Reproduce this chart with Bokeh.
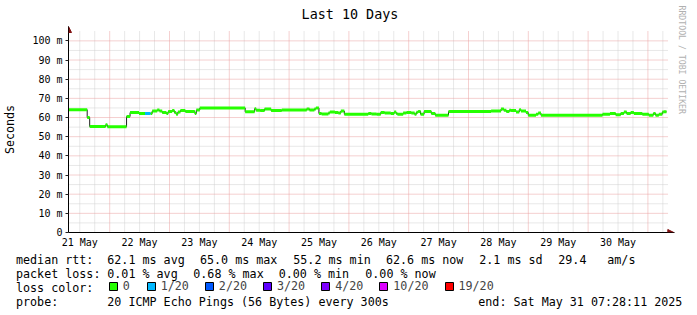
from datetime import datetime
from bokeh.plotting import figure
from bokeh.layouts import column
from bokeh.models import (Range1d, FixedTicker, Label, Arrow, NormalHead, Title,
                          Legend, LegendItem)
from bokeh.embed import file_html
from bokeh.resources import INLINE

# ---------------- data ----------------
start = datetime(2025, 5, 21, 7, 28, 11)
end = datetime(2025, 5, 31, 7, 28, 11)
span_h = (end - start).total_seconds() / 3600.0

# start of each median step, hours since start
step_start_h = [0.0, 7.5, 8.5, 14.9, 15.6, 23.3, 24.7, 28.3, 30.7, 32.9,
                33.6, 35.6, 36.5, 37.6, 39.3, 40.0, 41.6, 42.5, 43.2, 43.9,
                44.9, 46.9, 50.7, 51.3, 52.7, 70.9, 74.7, 75.3, 76.9, 78.7,
                81.3, 85.6, 95.6, 96.7, 98.7, 99.3, 100.5, 101.6, 104.3, 104.9,
                106.9, 108.3, 109.3, 110.7, 120.3, 121.6, 123.6, 125.3, 126.9, 129.3,
                130.7, 131.5, 132.0, 134.3, 135.6, 137.6, 138.9, 139.6, 140.3, 141.3,
                142.7, 145.6, 147.2, 152.5, 169.6, 173.6, 174.7, 175.7, 176.9, 177.6,
                179.6, 180.9, 181.6, 183.6, 184.5, 187.6, 188.5, 189.6, 214.3, 217.3,
                219.6, 221.6, 222.9, 224.0, 225.6, 226.9, 230.3, 232.9, 234.7, 235.6,
                236.9, 238.3, 238.9]
# median rtt, ms
median_ms = [64.1, 60.0, 55.3, 56.2, 55.2, 60.5, 62.6, 62.1, 62.1, 62.1,
             63.4, 63.9, 63.4, 62.6, 62.1, 63.1, 63.6, 62.6, 61.7, 62.9,
             63.6, 63.1, 62.1, 63.9, 65.0, 63.0, 64.6, 63.8, 63.6, 64.5,
             63.6, 63.9, 64.5, 63.9, 64.5, 65.0, 62.1, 61.9, 62.4, 62.9,
             62.6, 62.3, 63.4, 61.7, 62.1, 61.9, 61.7, 62.6, 62.3, 62.1,
             62.9, 62.1, 61.7, 62.3, 62.6, 62.3, 61.7, 62.7, 63.2, 61.7,
             63.1, 62.1, 61.2, 63.1, 63.4, 64.5, 63.8, 63.1, 63.8, 63.6,
             62.9, 64.1, 63.4, 62.6, 61.2, 61.7, 62.3, 61.2, 61.7, 62.1,
             61.4, 62.1, 62.9, 62.1, 62.6, 62.1, 61.7, 61.2, 62.1, 61.2,
             61.7, 62.9, 63.0]
# lost pings out of 20 per step
loss_of_20 = [0] * len(median_ms)
loss_of_20[8] = 1

x_day_labels = ["21 May", "22 May", "23 May", "24 May", "25 May",
                "26 May", "27 May", "28 May", "29 May", "30 May"]
y_ticks = [0, 10, 20, 30, 40, 50, 60, 70, 80, 90, 100]
y_tick_labels = ["0", "10 m", "20 m", "30 m", "40 m", "50 m",
                 "60 m", "70 m", "80 m", "90 m", "100 m"]
y_minor = [5, 15, 25, 35, 45, 55, 65, 75, 85, 95]

loss_levels = [0, 1, 2, 3, 4, 10, 19]
loss_labels = ["0", "1/20", "2/20", "3/20", "4/20", "10/20", "19/20"]
loss_colors = ["#26ff00", "#00b8ff", "#0059ff", "#5e00ff",
               "#7e00ff", "#dd00ff", "#ff0000"]

title_text = "Last 10 Days"
y_axis_text = "Seconds"
watermark_text = "RRDTOOL / TOBI OETIKER"
rtt_texts = ["median rtt:", "62.1 ms avg", "65.0 ms max", "55.2 ms min",
             "62.6 ms now", "2.1 ms sd", "29.4", "am/s"]
loss_texts = ["packet loss:", "0.01 % avg", "0.68 % max", "0.00 % min", "0.00 % now"]
color_title = "loss color:"
probe_texts = ["probe:", "20 ICMP Echo Pings (56 Bytes) every 300s",
               "end: Sat May 31 07:28:11 2025"]

# ---------------- layout constants ----------------
W = 697
TOP_H, BOT_H = 250, 65
FONT = "DejaVu Sans Mono"
AX_X, AX_Y = 66, 234          # canvas px of (t=0, 0 ms)
PX_PER_H = 600.0 / span_h
PX_PER_MS = 1.935
FR_L, FR_R, FR_T, FR_B = 66, 674, 26, 234   # plotting frame in canvas px

X1 = (FR_R - AX_X) / PX_PER_H
Y1 = (AX_Y - FR_T) / PX_PER_MS

p = figure(width=W, height=TOP_H, x_range=Range1d(0, X1), y_range=Range1d(0, Y1),
           output_backend="svg", toolbar_location=None,
           min_border_left=FR_L, min_border_right=W - FR_R,
           min_border_top=FR_T, min_border_bottom=TOP_H - FR_B,
           background_fill_color="white", border_fill_color="white")
p.frame_align = False
p.outline_line_color = None
p.xgrid.visible = False
p.ygrid.visible = False

def hours_of(dt):
    return (dt - start).total_seconds() / 3600.0
first_midnight = hours_of(datetime(2025, 5, 22, 0, 0, 0))
midnights = [first_midnight + 24 * k for k in range(10) if first_midnight + 24 * k <= span_h]
six_h = []
h = first_midnight - 18
while h <= span_h:
    if h >= 0 and all(abs(h - m) > 1e-6 for m in midnights):
        six_h.append(h)
    h += 6
noons = [first_midnight - 12 + 24 * k for k in range(len(x_day_labels))]

# grid lines (dotted), bounded like rrdtool's canvas
minor_col = "#d0d0d0"
major_col = "#eaa0a0"
grid_top = (AX_Y - 31) / PX_PER_MS
grid_right = span_h + 2 / PX_PER_H
p.segment(x0=six_h, y0=[0] * len(six_h), x1=six_h, y1=[grid_top] * len(six_h),
          line_color=minor_col, line_width=1, line_dash="1 1", level="underlay")
p.segment(x0=[0] * len(y_minor), y0=y_minor, x1=[grid_right] * len(y_minor), y1=y_minor,
          line_color=minor_col, line_width=1, line_dash="1 1", level="underlay")
p.segment(x0=midnights, y0=[0] * len(midnights), x1=midnights, y1=[grid_top] * len(midnights),
          line_color=major_col, line_width=1, line_dash="1 1", level="underlay")
p.segment(x0=[0] * 10, y0=y_ticks[1:], x1=[grid_right] * 10, y1=y_ticks[1:],
          line_color=major_col, line_width=1, line_dash="1 1", level="underlay")

# axes
p.xaxis.ticker = FixedTicker(ticks=noons)
p.xaxis.major_label_overrides = {t: lab for t, lab in zip(noons, x_day_labels)}
p.yaxis.ticker = FixedTicker(ticks=y_ticks)
p.yaxis.major_label_overrides = {t: lab for t, lab in zip(y_ticks, y_tick_labels)}
for ax in (p.xaxis[0], p.yaxis[0]):
    ax.axis_line_color = "#000000"
    ax.minor_tick_line_color = None
    ax.major_label_text_font = FONT
    ax.major_label_text_font_size = "10px"
    ax.major_label_text_color = "#000000"
p.xaxis.major_tick_line_color = None
p.xaxis.major_tick_out = 0
p.xaxis.major_tick_in = 0
p.xaxis.major_label_standoff = 4
p.yaxis.major_tick_line_color = "#202020"
p.yaxis.major_tick_out = 3
p.yaxis.major_tick_in = 0
p.yaxis.major_label_standoff = 3
p.yaxis.axis_label = y_axis_text
p.yaxis.axis_label_text_font = FONT
p.yaxis.axis_label_text_font_size = "11.7px"
p.yaxis.axis_label_text_font_style = "normal"
p.yaxis.axis_label_text_color = "#000000"
p.yaxis.axis_label_standoff = 12

# title and watermark
p.title.text = title_text
p.title.align = "left"
p.title.offset = 299.1 - FR_L
p.title.standoff = 9
p.title.text_font = FONT
p.title.text_font_size = "13.4px"
p.title.text_font_style = "normal"
p.title.text_color = "#000000"
p.add_layout(Title(text=watermark_text, align="left", offset=-21, standoff=4,
                   text_font=FONT, text_font_size="8.2px", text_font_style="normal",
                   text_color="#b0b0b0"), "right")

# median step line (dark) and loss-coloured band
xs = step_start_h + [span_h]
ys = median_ms + [median_ms[-1]]
p.step(xs, ys, mode="after", line_color="#202020", line_width=1)

def level_index(loss):
    for i, lv in enumerate(loss_levels):
        if loss <= lv:
            return i
    return len(loss_levels) - 1

for i, col in enumerate(loss_colors):
    idx = [k for k in range(len(median_ms)) if level_index(loss_of_20[k]) == i]
    if idx:
        p.segment(x0=[xs[k] for k in idx], y0=[ys[k] for k in idx],
                  x1=[xs[k + 1] for k in idx], y1=[ys[k] for k in idx],
                  line_color=col, line_width=3, line_cap="butt")

# axis arrows
arrow_col = "#801010"
p.add_layout(Arrow(x_start=0, y_start=Y1 - 6 / PX_PER_MS, x_end=0, y_end=Y1,
                   line_color="#000000", line_width=1,
                   end=NormalHead(size=6, fill_color=arrow_col, line_color=arrow_col, line_width=1)))
p.add_layout(Arrow(x_start=span_h, y_start=0, x_end=span_h + 7.3 / PX_PER_H, y_end=0,
                   line_color="#000000", line_width=1,
                   end=NormalHead(size=6, fill_color=arrow_col, line_color=arrow_col, line_width=1)))

# ---------------- legend / statistics block ----------------
q = figure(width=W, height=BOT_H, x_range=Range1d(0, W), y_range=Range1d(TOP_H + BOT_H, TOP_H),
           output_backend="svg", toolbar_location=None, x_axis_type=None, y_axis_type=None,
           min_border=0, min_border_left=0, min_border_right=0, min_border_top=0,
           min_border_bottom=0, background_fill_color="white", border_fill_color="white")
q.frame_align = False
q.outline_line_color = None
q.xgrid.visible = False
q.ygrid.visible = False

def add_label(text, px, py):
    q.add_layout(Label(x=px, y=py, text=text, text_font=FONT, text_font_size="11.7px",
                       text_color="#000000", text_align="left", text_baseline="alphabetic"))

ROW = [259.3, 273.3, 287.3, 301.3]
rtt_x = [16, 107.3, 200, 293.3, 386, 479.3, 558.3, 607.3]
for t, x in zip(rtt_texts, rtt_x):
    add_label(t, x - 0.5, ROW[0])
loss_x = [16, 107.3, 193.3, 278.7, 365.3]
for t, x in zip(loss_texts, loss_x):
    add_label(t, x - 0.5, ROW[1])
add_label(color_title, 15.5, ROW[2])
probe_x = [16, 107.3, 478.3]
for t, x in zip(probe_texts, probe_x):
    add_label(t, x - 0.5, ROW[3])

nan = float("nan")
items = []
for lab, col in zip(loss_labels, loss_colors):
    r = q.quad(left=[nan], right=[nan], top=[nan], bottom=[nan],
               fill_color=col, line_color="black", line_width=1)
    items.append(LegendItem(label=lab, renderers=[r]))
legend = Legend(items=items, orientation="horizontal",
                location=(107.7, TOP_H + BOT_H - 293),
                glyph_width=10, glyph_height=10, label_height=10, label_width=8,
                label_standoff=5, spacing=15, padding=0, margin=0,
                border_line_color=None, background_fill_alpha=0,
                label_text_font=FONT, label_text_font_size="11.7px",
                label_text_baseline="middle")
q.add_layout(legend)

layout = column(p, q, spacing=0)
open("out.html", "w").write(file_html(layout, INLINE))
